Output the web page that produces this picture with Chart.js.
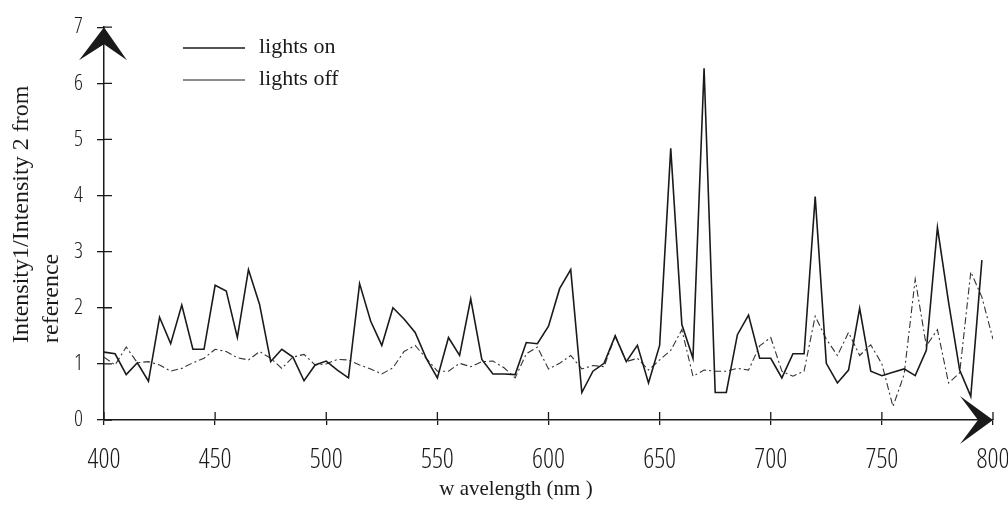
<!DOCTYPE html>
<html>
<head>
<meta charset="utf-8">
<script src="https://cdn.jsdelivr.net/npm/chart.js@4.4.0/dist/chart.umd.min.js"></script>
<style>
  html, body { margin: 0; padding: 0; background: #fff; }
  #wrap { width: 1008px; height: 508px; }
</style>
</head>
<body>
<div id="wrap"><canvas id="chart" width="1008" height="508"></canvas></div>
<script>
// wavelength (nm) of each sample
const wavelengths = [
  400, 405, 410, 415, 420, 425, 430, 435, 440, 445,
  450, 455, 460, 465, 470, 475, 480, 485, 490, 495,
  500, 505, 510, 515, 520, 525, 530, 535, 540, 545,
  550, 555, 560, 565, 570, 575, 580, 585, 590, 595,
  600, 605, 610, 615, 620, 625, 630, 635, 640, 645,
  650, 655, 660, 665, 670, 675, 680, 685, 690, 695,
  700, 705, 710, 715, 720, 725, 730, 735, 740, 745,
  750, 755, 760, 765, 770, 775, 780, 785, 790, 795,
  800
];

// Intensity1/Intensity2 ratio, lights on (stops at 795 nm)
const lightsOn = [
  1.21, 1.18, 0.81, 1.02, 0.69, 1.83, 1.36, 2.05, 1.26, 1.26,
  2.40, 2.30, 1.47, 2.68, 2.06, 1.04, 1.26, 1.12, 0.70, 0.98,
  1.05, 0.89, 0.75, 2.43, 1.76, 1.33, 2.00, 1.80, 1.56, 1.10,
  0.75, 1.47, 1.15, 2.16, 1.08, 0.82, 0.82, 0.81, 1.38, 1.36,
  1.67, 2.34, 2.68, 0.49, 0.87, 1.01, 1.50, 1.04, 1.33, 0.66,
  1.33, 4.84, 1.70, 1.10, 6.27, 0.49, 0.49, 1.52, 1.87, 1.10,
  1.10, 0.75, 1.18, 1.18, 3.98, 1.01, 0.66, 0.89, 1.99, 0.87,
  0.79, 0.85, 0.91, 0.79, 1.24, 3.43, 2.10, 0.89, 0.42, 2.85
];

// Intensity1/Intensity2 ratio, lights off
const lightsOff = [
  1.12, 0.98, 1.30, 1.02, 1.04, 0.98, 0.87, 0.92, 1.02, 1.10,
  1.26, 1.22, 1.11, 1.07, 1.22, 1.10, 0.92, 1.12, 1.17, 0.98,
  1.00, 1.08, 1.07, 0.98, 0.91, 0.82, 0.93, 1.22, 1.33, 1.10,
  0.87, 0.87, 1.01, 0.95, 1.04, 1.05, 0.93, 0.75, 1.18, 1.30,
  0.91, 1.01, 1.15, 0.91, 0.97, 0.95, 1.50, 1.04, 1.10, 0.89,
  1.07, 1.24, 1.61, 0.78, 0.89, 0.87, 0.87, 0.92, 0.89, 1.32,
  1.47, 0.87, 0.78, 0.87, 1.85, 1.44, 1.15, 1.56, 1.15, 1.34,
  1.00, 0.24, 0.81, 2.51, 1.32, 1.61, 0.66, 0.84, 2.64, 2.19,
  1.44
];

const xTickValues = [400, 450, 500, 550, 600, 650, 700, 750, 800];
const yTickValues = [0, 1, 2, 3, 4, 5, 6, 7];

const seriesNames = ['lights on', 'lights off'];
const xTitle = 'w avelength (nm )';
const yTitleLines = ['Intensity1/Intensity 2 from', 'reference'];

const INK = '#1a1a1a';
const TICK_FONT = '"Open Sans", "DejaVu Sans Condensed", sans-serif';
const TICK_WEIGHT = '300 condensed';   // thin, narrow digits like the scan
const SERIF_FONT = '"Liberation Serif", "DejaVu Serif", serif';
const OFF_DASH = [7, 3, 2, 3];

const toPoints = (vals) => vals.map((v, i) => ({ x: wavelengths[i], y: v }));

// arrows, crossing ticks, legend and axis titles
const axisDecor = {
  id: 'axisDecor',
  afterDraw(chart) {
    const { ctx, scales: { x, y } } = chart;
    const ax = x.left;
    const ay = y.bottom;
    ctx.save();
    ctx.strokeStyle = INK;
    ctx.fillStyle = INK;
    ctx.lineWidth = 1.3;

    // inner half of the tick marks
    ctx.beginPath();
    yTickValues.forEach(v => {
      const py = y.getPixelForValue(v);
      ctx.moveTo(ax, py);
      ctx.lineTo(ax + 8, py);
    });
    xTickValues.forEach(v => {
      const px = x.getPixelForValue(v);
      ctx.moveTo(px, ay);
      ctx.lineTo(px, ay - 8);
    });
    ctx.stroke();

    // arrow heads
    const top = y.top;
    ctx.beginPath();
    ctx.moveTo(ax, top);
    ctx.lineTo(ax + 23, top + 33);
    ctx.lineTo(ax, top + 17);
    ctx.lineTo(ax - 25, top + 33);
    ctx.closePath();
    ctx.fill();

    const right = x.right;
    ctx.beginPath();
    ctx.moveTo(right, ay);
    ctx.lineTo(right - 33, ay + 24);
    ctx.lineTo(right - 15, ay);
    ctx.lineTo(right - 33, ay - 24);
    ctx.closePath();
    ctx.fill();

    // legend
    ctx.font = '22px ' + SERIF_FONT;
    ctx.textBaseline = 'middle';
    ctx.textAlign = 'left';
    [48, 80].forEach((ly, i) => {
      ctx.beginPath();
      ctx.lineWidth = i === 0 ? 1.3 : 1;
      ctx.moveTo(183, ly);
      ctx.lineTo(245, ly);
      ctx.stroke();
      ctx.fillText(seriesNames[i], 259, ly - 1);
    });

    // x title
    ctx.textAlign = 'center';
    ctx.font = '21px ' + SERIF_FONT;
    ctx.fillText(xTitle, 516, 489);

    // y title, two lines starting from the same point
    ctx.translate(0, 343);
    ctx.rotate(-Math.PI / 2);
    ctx.textAlign = 'left';
    ctx.font = '24px ' + SERIF_FONT;
    ctx.fillText(yTitleLines[0], 0, 22);
    ctx.fillText(yTitleLines[1], 0, 52);
    ctx.restore();
  }
};

new Chart(document.getElementById('chart'), {
  type: 'line',
  data: {
    datasets: [
      {
        label: seriesNames[0],
        data: toPoints(lightsOn),
        borderColor: INK,
        borderWidth: 1.6,
        pointRadius: 0,
        tension: 0,
        fill: false
      },
      {
        label: seriesNames[1],
        data: toPoints(lightsOff),
        borderColor: '#333',
        borderWidth: 1.1,
        borderDash: OFF_DASH,
        pointRadius: 0,
        tension: 0,
        fill: false
      }
    ]
  },
  options: {
    responsive: false,
    animation: false,
    layout: { padding: { top: 15, right: 15, left: 0, bottom: 0 } },
    plugins: {
      legend: { display: false },
      tooltip: { enabled: false }
    },
    scales: {
      x: {
        type: 'linear',
        min: 400,
        max: 800,
        afterBuildTicks: (s) => { s.ticks = xTickValues.map(v => ({ value: v })); },
        afterFit: (s) => { s.height = 88; s.paddingLeft = 0; s.paddingRight = 0; },
        ticks: {
          color: INK,
          padding: 19,
          font: { family: TICK_FONT, size: 27, weight: TICK_WEIGHT }
        },
        grid: { drawOnChartArea: false, tickLength: 5, color: INK, lineWidth: 1.3 },
        border: { display: true, color: INK, width: 1.5 }
      },
      y: {
        min: 0,
        max: 7,
        afterBuildTicks: (s) => { s.ticks = yTickValues.map(v => ({ value: v })); },
        afterFit: (s) => { s.width = 104; },
        ticks: {
          color: INK,
          padding: 14,
          font: { family: TICK_FONT, size: 22, weight: TICK_WEIGHT }
        },
        grid: { drawOnChartArea: false, tickLength: 7, color: INK, lineWidth: 1.3 },
        border: { display: true, color: INK, width: 1.5 }
      }
    }
  },
  plugins: [axisDecor]
});
</script>
</body>
</html>
